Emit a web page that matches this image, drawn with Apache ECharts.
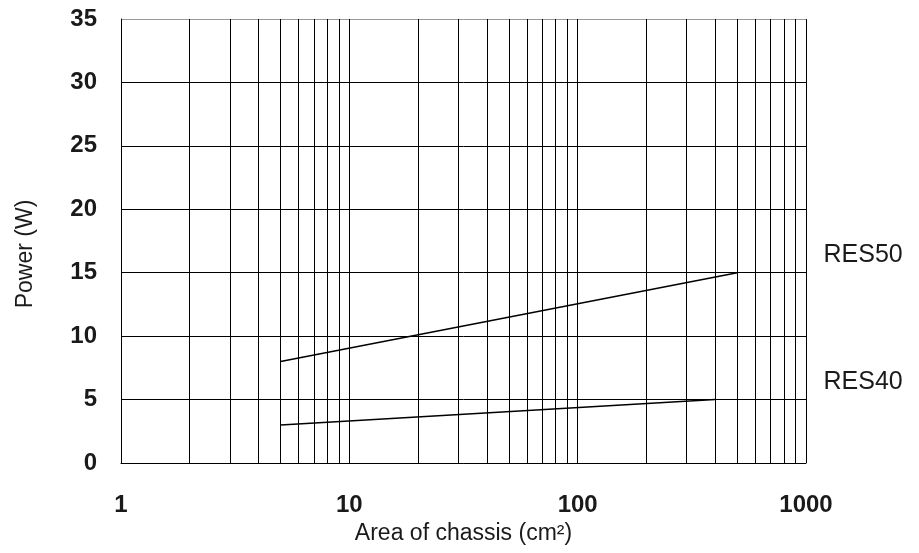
<!DOCTYPE html>
<html>
<head>
<meta charset="UTF-8">
<title>Power vs area of chassis</title>
<script src="https://cdn.jsdelivr.net/npm/echarts@6/dist/echarts.min.js"></script>
<style>
  html, body { margin: 0; padding: 0; background: #fff; }
  #chart { width: 919px; height: 553px; }
</style>
</head>
<body>
<div id="chart"></div>
<script>
// data
const seriesNames = ['RES50', 'RES40'];
const res50Area = [5, 500];
const res50Power = [8, 15];
const res40Area = [5, 400];
const res40Power = [3, 5];
// log grid lines between decades
const minorGrid = [2, 3, 4, 5, 6, 7, 8, 9, 20, 30, 40, 50, 60, 70, 80, 90, 200, 300, 400, 500, 600, 700, 800, 900];
const xTickLabels = ['1', '10', '100', '1000'];

const font = 'Arial, "Liberation Sans", sans-serif';
const ink = '#1a1a1a';

const pairs = (xs, ys) => xs.map((x, i) => [x, ys[i]]);

// name tag placed to the right of the plot, level with the line end
const endTag = (name, power, dy) => ({
  symbol: 'rect',
  symbolSize: 1,
  itemStyle: { color: 'rgba(0,0,0,0)' },
  data: [{ coord: [1000, power] }],
  label: {
    show: true,
    formatter: name,
    position: 'right',
    distance: 17,
    offset: [0, dy],
    fontFamily: font,
    fontSize: 25,
    color: ink
  }
});

const chart = echarts.init(document.getElementById('chart'));
chart.setOption({
  animation: false,
  grid: { left: 121, right: 113, top: 19, bottom: 90 },
  xAxis: {
    type: 'log',
    logBase: 10,
    min: 1,
    max: 1000,
    name: 'Area of chassis (cm²)',
    nameLocation: 'middle',
    nameGap: 53,
    nameTextStyle: { fontFamily: font, fontSize: 23, color: ink },
    axisLine: { show: true, lineStyle: { color: '#000', width: 1 } },
    axisTick: { show: false },
    axisLabel: {
      margin: 30,
      fontFamily: font,
      fontSize: 24,
      fontWeight: 'bold',
      color: ink,
      formatter: v => xTickLabels.find(t => Math.abs(Number(t) - v) < 1e-6 * Number(t)) || ''
    },
    splitLine: { show: true, lineStyle: { color: '#000', width: 1 } }
  },
  yAxis: {
    type: 'value',
    min: 0,
    max: 35,
    interval: 5,
    name: 'Power (W)',
    nameLocation: 'middle',
    nameGap: 84,
    nameTextStyle: { fontFamily: font, fontSize: 23, color: ink, padding: [0, 26, 0, 0] },
    axisLine: { show: true, lineStyle: { color: '#000', width: 1 } },
    axisTick: { show: false },
    axisLabel: { margin: 24, fontFamily: font, fontSize: 24, fontWeight: 'bold', color: ink },
    splitLine: {
      show: true,
      lineStyle: { color: ['#000', '#000', '#000', '#000', '#000', '#000', '#000', '#999'], width: 1 }
    }
  },
  series: [
    {
      name: seriesNames[0],
      type: 'line',
      data: pairs(res50Area, res50Power),
      symbol: 'none',
      lineStyle: { color: '#000', width: 1.5 },
      markLine: {
        silent: true,
        symbol: 'none',
        label: { show: false },
        lineStyle: { color: '#000', width: 1, type: 'solid' },
        data: minorGrid.map(v => ({ xAxis: v }))
      },
      markPoint: endTag(seriesNames[0], res50Power[1], -18)
    },
    {
      name: seriesNames[1],
      type: 'line',
      data: pairs(res40Area, res40Power),
      symbol: 'none',
      lineStyle: { color: '#000', width: 1.5 },
      markPoint: endTag(seriesNames[1], res40Power[1], -17)
    }
  ]
});
</script>
</body>
</html>
